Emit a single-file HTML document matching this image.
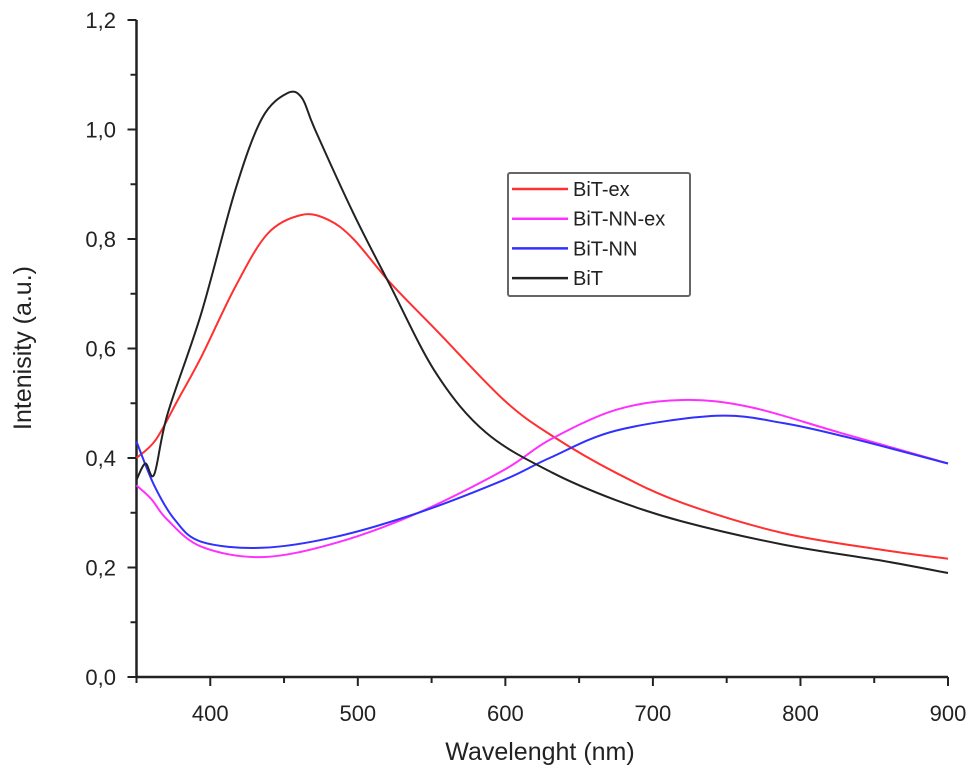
<!DOCTYPE html>
<html><head><meta charset="utf-8"><style>
html,body{margin:0;padding:0;background:#fff;}
svg{display:block;font-family:"Liberation Sans",Arial,sans-serif;}
</style></head><body>
<svg id="chart" width="975" height="779" viewBox="0 0 975 779">
<g id="axes"></g>
<g id="series"></g>
<g id="legend">
<rect x="508" y="173" width="182" height="123" fill="#fff" stroke="#666" stroke-width="2" rx="2"/>
</g>
<text x="540" y="760" text-anchor="middle" font-size="25" fill="#222">Wavelenght (nm)</text>
<text transform="translate(31,348) rotate(-90)" text-anchor="middle" font-size="25" fill="#222">Intenisity (a.u.)</text>
</svg>
<script>
const xTicks=[400,500,600,700,800,900];
const yTicks=[0,0.2,0.4,0.6,0.8,1.0,1.2];
const yTickLabels=["0,0","0,2","0,4","0,6","0,8","1,0","1,2"];
const seriesNames=["BiT-ex","BiT-NN-ex","BiT-NN","BiT"];
const seriesColors=["#ff3030","#ff30ff","#3030ff","#222222"];
const wlBiTex=[350,363,378,394,417,439,462,480,497,522,553,599,632,675,720,788,856,900];
const valBiTex=[0.40,0.433,0.506,0.585,0.713,0.81,0.844,0.835,0.80,0.72,0.634,0.506,0.44,0.373,0.318,0.263,0.232,0.216];
const wlBiTNNex=[350,360,371,394,435,485,541,599,630,675,720,766,827,900];
const valBiTNNex=[0.35,0.325,0.287,0.238,0.219,0.245,0.30,0.378,0.433,0.488,0.506,0.493,0.446,0.39];
const wlBiTNN=[350,362,376,394,435,485,541,599,630,675,743,788,833,900];
const valBiTNN=[0.43,0.35,0.287,0.247,0.236,0.256,0.30,0.36,0.40,0.45,0.477,0.464,0.437,0.39];
const wlBiT=[350,356,362,371,394,417,435,452,462,471,497,521,553,587,632,675,720,788,856,900];
const valBiT=[0.36,0.39,0.37,0.48,0.665,0.89,1.02,1.066,1.058,1.0,0.847,0.72,0.555,0.446,0.373,0.323,0.284,0.242,0.212,0.19];
const wlSets=[wlBiTex,wlBiTNNex,wlBiTNN,wlBiT];
const valSets=[valBiTex,valBiTNNex,valBiTNN,valBiT];

const NS="http://www.w3.org/2000/svg";
const X0=136.5,X1=948,Y0=677,Y1=20,XMIN=350,XMAX=900,YMIN=0,YMAX=1.2;
function sx(v){return X0+(v-XMIN)/(XMAX-XMIN)*(X1-X0);}
function sy(v){return Y0-(v-YMIN)/(YMAX-YMIN)*(Y0-Y1);}
function mk(tag,attrs,parent){const e=document.createElementNS(NS,tag);for(const k in attrs)e.setAttribute(k,attrs[k]);parent.appendChild(e);return e;}
function smoothPath(p){
  let d='M'+p[0][0].toFixed(1)+','+p[0][1].toFixed(1);
  for(let i=0;i<p.length-1;i++){
    const p0=p[Math.max(0,i-1)],p1=p[i],p2=p[i+1],p3=p[Math.min(p.length-1,i+2)];
    const t=0.5/3;
    const c1=[p1[0]+(p2[0]-p0[0])*t,p1[1]+(p2[1]-p0[1])*t];
    const c2=[p2[0]-(p3[0]-p1[0])*t,p2[1]-(p3[1]-p1[1])*t];
    d+=' C'+c1[0].toFixed(1)+','+c1[1].toFixed(1)+' '+c2[0].toFixed(1)+','+c2[1].toFixed(1)+' '+p2[0].toFixed(1)+','+p2[1].toFixed(1);
  }
  return d;
}
const axes=document.getElementById('axes');
let e;
e=mk('line',{x1:X0,y1:Y1,x2:X0,y2:Y0+1,stroke:'#222','stroke-width':2.5},axes);


e=mk('line',{x1:X0-1,y1:Y0,x2:X1,y2:Y0,stroke:'#222','stroke-width':2.5},axes);


for(let v=350;v<=900;v+=50){
  const major=xTicks.includes(v);
  e=mk('line',{x1:sx(v),y1:Y0,x2:sx(v),y2:Y0+(major?9:6),stroke:'#222','stroke-width':2},axes);
  
  
}
xTicks.forEach(v=>{
  e=mk('text',{x:sx(v),y:721,'text-anchor':'middle','font-size':22,fill:'#222'},axes);
  e.textContent=v;
  
  
});
for(let i=0;i<=12;i++){
  const v=i*0.1, major=i%2===0;
  e=mk('line',{x1:X0,y1:sy(v),x2:X0-(major?9:6),y2:sy(v),stroke:'#222','stroke-width':2},axes);
  
  
}
yTicks.forEach((v,i)=>{
  e=mk('text',{x:116,y:sy(v)+8,'text-anchor':'end','font-size':22,fill:'#222'},axes);
  e.textContent=yTickLabels[i];
  
  
});
const sg=document.getElementById('series');
const lg=document.getElementById('legend');
seriesNames.forEach((n,i)=>{
  const pts=wlSets[i].map((w,j)=>[sx(w),sy(valSets[i][j])]);
  e=mk('path',{d:smoothPath(pts),fill:'none',stroke:seriesColors[i],'stroke-width':2,'stroke-linejoin':'round'},sg);
  
  
  const ly=189+i*29.7;
  e=mk('line',{x1:512,y1:ly,x2:568,y2:ly,stroke:seriesColors[i],'stroke-width':2.5},lg);
  
  
  e=mk('text',{x:573,y:ly+7,'font-size':20,fill:'#222'},lg);
  e.textContent=n;
  
  
});
</script>
</body></html>
